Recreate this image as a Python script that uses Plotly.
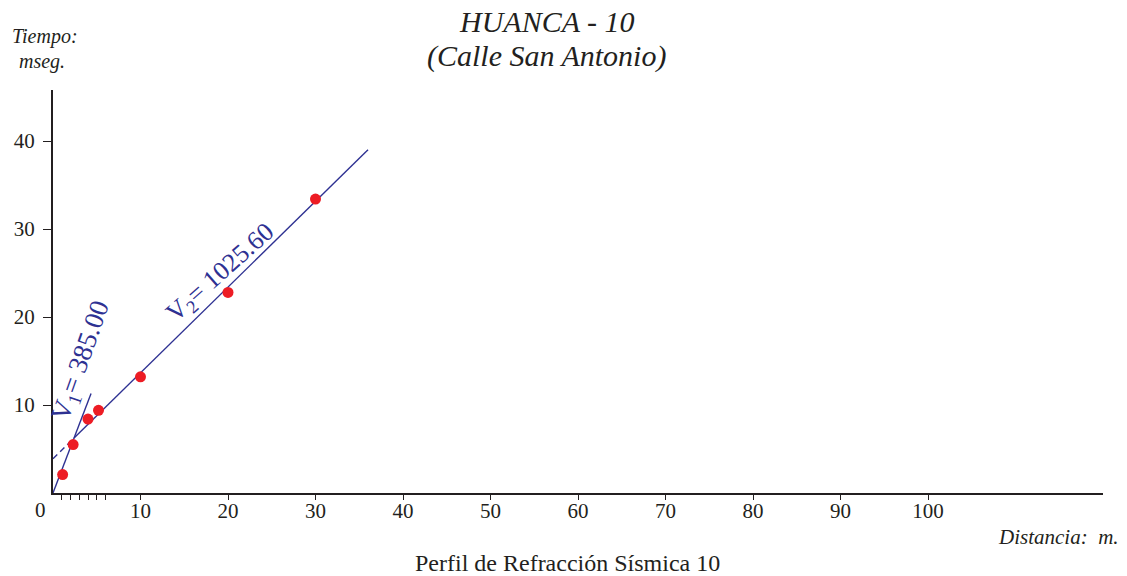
import plotly.graph_objects as go

# Travel-time readings: distance (m) vs first-arrival time (ms)
distancia_m = [1.1, 2.3, 4.0, 5.2, 10.0, 20.0, 30.0]
tiempo_ms = [2.1, 5.5, 8.4, 9.4, 13.2, 22.8, 33.4]

# Layer velocities (m/s) and the fitted intercept time of the second layer (ms)
v1 = 385.00
v2 = 1025.60
t_intercepto_v2 = 3.9

# Extent of the drawn segments (m)
fin_v1 = 4.35
fin_v2 = 36.0

x_ticks_mayores = [10, 20, 30, 40, 50, 60, 70, 80, 90, 100]
x_ticks_menores = [1, 2, 3, 4, 5, 6]
y_ticks = [10, 20, 30, 40]

AZUL = "#2e3192"
ROJO = "#ed1c24"
TEXTO = "#231f20"
SERIF = "Liberation Serif, Times New Roman, serif"

# plot-area margins in pixels
M_IZQ, M_DER, M_SUP, M_INF = 53, 24, 90, 83
ANCHO, ALTO = 1127, 576


def t_v1(x):
    return x * 1000.0 / v1


def t_v2(x):
    return t_intercepto_v2 + x * 1000.0 / v2


# crossover distance between the two branches
x_cruce = t_intercepto_v2 / (1000.0 / v1 - 1000.0 / v2)

fig = go.Figure()

# first-layer branch through the origin
fig.add_trace(go.Scatter(
    x=[0, fin_v1], y=[t_v1(0), t_v1(fin_v1)],
    mode="lines", line=dict(color=AZUL, width=1.4), hoverinfo="skip",
))
# second-layer branch, extended back to the time axis as a dashed line
fig.add_trace(go.Scatter(
    x=[0, x_cruce], y=[t_v2(0), t_v2(x_cruce)],
    mode="lines", line=dict(color=AZUL, width=1.4, dash="6px,4px"), hoverinfo="skip",
))
fig.add_trace(go.Scatter(
    x=[x_cruce, fin_v2], y=[t_v2(x_cruce), t_v2(fin_v2)],
    mode="lines", line=dict(color=AZUL, width=1.4), hoverinfo="skip",
))
# observed arrivals
fig.add_trace(go.Scatter(
    x=distancia_m, y=tiempo_ms, mode="markers",
    marker=dict(color=ROJO, size=11, line=dict(width=0)),
))


def texto_pagina(texto, px, py, size, xanchor="center"):
    """Text placed at a pixel position of the page."""
    return dict(
        text=texto, xref="paper", yref="paper",
        x=(px - M_IZQ) / (ANCHO - M_IZQ - M_DER),
        y=(ALTO - M_INF - py) / (ALTO - M_SUP - M_INF),
        xanchor=xanchor, yanchor="middle", showarrow=False,
        font=dict(family=SERIF, size=size, color=TEXTO),
    )


anotaciones = [
    texto_pagina("<i>HUANCA - 10</i>", 546, 21, 30),
    texto_pagina("<i>(Calle San Antonio)</i>", 546, 56, 30),
    texto_pagina("<i>Tiempo:</i>", 45, 37, 20),
    texto_pagina("<i>mseg.</i>", 42, 61, 20),
    texto_pagina("<i>Distancia:  m.</i>", 1121, 537, 21, xanchor="right"),
    texto_pagina("Perfil de Refracción Sísmica 10", 567, 563, 24),
    texto_pagina("0", 40, 510, 21),
    dict(text=f"V<sub>1</sub>= {v1:.2f}", xref="x", yref="y", x=3.3, y=15.0,
         textangle=-70.5, showarrow=False,
         font=dict(family=SERIF, size=27, color=AZUL)),
    dict(text=f"V<sub>2</sub>= {v2:.2f}", xref="x", yref="y", x=19.2, y=25.0,
         textangle=-41.5, showarrow=False,
         font=dict(family=SERIF, size=26, color=AZUL)),
]

fig.update_layout(
    width=ANCHO, height=ALTO,
    margin=dict(l=M_IZQ, r=M_DER, t=M_SUP, b=M_INF),
    paper_bgcolor="white", plot_bgcolor="white",
    showlegend=False,
    annotations=anotaciones,
    xaxis=dict(
        range=[0, 120], showgrid=False, zeroline=False,
        showline=True, linecolor=TEXTO, linewidth=2,
        tickmode="array",
        tickvals=x_ticks_menores + x_ticks_mayores,
        ticktext=[""] * len(x_ticks_menores) + [str(v) for v in x_ticks_mayores],
        ticks="outside", ticklen=5, tickwidth=1, tickcolor=TEXTO,
        ticklabelstandoff=-7,
        tickfont=dict(family=SERIF, size=21, color=TEXTO),
    ),
    yaxis=dict(
        range=[0, 45.8], showgrid=False, zeroline=False,
        showline=True, linecolor=TEXTO, linewidth=2,
        tickmode="array", tickvals=y_ticks,
        ticktext=[str(v) for v in y_ticks],
        ticks="outside", ticklen=8, tickwidth=1, tickcolor=TEXTO,
        ticklabelstandoff=4,
        tickfont=dict(family=SERIF, size=21, color=TEXTO),
    ),
)

fig.write_html("out.html")
